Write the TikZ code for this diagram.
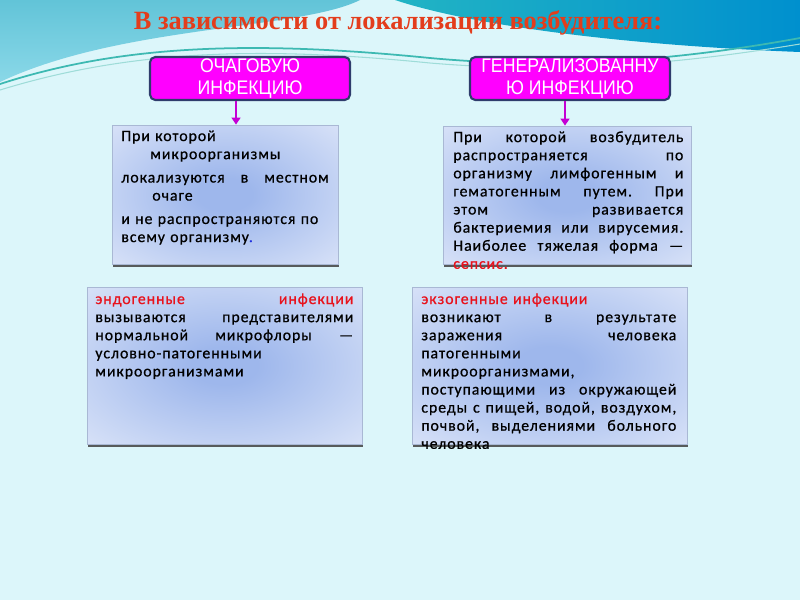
\documentclass[tikz,border=0pt]{standalone}
\usepackage{fontspec}
\newfontfamily\titlefont{Liberation Serif}
\newfontfamily\capsfont[FakeStretch=0.9]{Liberation Sans}
\newfontfamily\boxfont[LetterSpace=6,FakeBold=0.7]{Carlito}
\usetikzlibrary{arrows.meta,shadows}
\definecolor{bgcyan}{HTML}{DCF6FA}
\definecolor{topteal}{HTML}{62C4D8}
\definecolor{topteallight}{HTML}{8AD8E8}
\definecolor{deepteal}{HTML}{22B4C4}
\definecolor{deepblue}{HTML}{0090CE}
\definecolor{waveline}{HTML}{3DB9B2}
\definecolor{titlered}{HTML}{E33D1C}
\definecolor{pinkfill}{HTML}{FF00FF}
\definecolor{pinkedge}{HTML}{2F3C6C}
\definecolor{arrowpink}{HTML}{C400D4}
\definecolor{boxcore}{HTML}{9EB7EC}
\definecolor{boxrim}{HTML}{F3F6FD}
\definecolor{boxedge}{HTML}{A9B8D4}
\definecolor{alertred}{HTML}{E8121C}
\definecolor{dotblue}{HTML}{2030E0}
\pgfdeclareradialshading{boxglow}{\pgfpoint{0bp}{0bp}}{color(0bp)=(boxcore); color(6bp)=(boxcore); color(50bp)=(boxrim); color(60bp)=(boxrim)}
\begin{document}
\begin{tikzpicture}[x=0.02cm,y=-0.02cm,
  pinkbox/.style={draw=pinkedge,line width=1.2pt,fill=pinkfill,rounded corners=3pt,
    minimum width=4cm,minimum height=0.86cm,align=center,text=white,inner sep=1pt,
    font=\capsfont\fontsize{11.2}{12.3}\selectfont},
  infobox/.style={draw=boxedge,line width=0.4pt,shading=boxglow,
    drop shadow={shadow xshift=0.6pt,shadow yshift=-1.6pt,fill=black!75,opacity=0.85}},
  infotext/.style={anchor=north west,inner sep=0pt,align=left,
    font=\boxfont\fontsize{9}{10.3}\selectfont},
  link/.style={draw=arrowpink,line width=1.4pt,-{Triangle[length=4pt,width=5pt]}}]
  \useasboundingbox (0,0) rectangle (800,600);
  % background
  \fill[bgcyan] (0,0) rectangle (800,600);
  \shade[top color=topteal,bottom color=topteallight]
    (0,0) -- (360,0) .. controls (300,30) and (120,25) .. (0,82) -- cycle;
  \shade[left color=deepteal,right color=deepblue]
    (395,0) .. controls (470,25) and (620,45) .. (800,52) -- (800,0) -- cycle;
  \draw[waveline,line width=1pt] (0,84) .. controls (120,45) and (250,40) .. (430,58)
    .. controls (560,70) and (680,60) .. (800,38);
  \draw[waveline!50,line width=0.6pt] (0,90) .. controls (130,50) and (260,46) .. (430,63)
    .. controls (560,74) and (680,64) .. (800,44);
  % title and headers
  \node[font=\titlefont\bfseries\fontsize{15}{18}\selectfont,text=titlered] (title) at (398,23)
    {В зависимости от локализации возбудителя:};
  \node[pinkbox] (focal) at (250,78.5) {ОЧАГОВУЮ\\ИНФЕКЦИЮ};
  \node[pinkbox] (general) at (570,78.5) {ГЕНЕРАЛИЗОВАННУ\\Ю ИНФЕКЦИЮ};
  % boxes
  \node[infobox,minimum width=4.52cm,minimum height=2.78cm] (local) at (225,194.5) {};
  \node[infobox,minimum width=4.96cm,minimum height=2.76cm] (spread) at (567,195) {};
  \node[infobox,minimum width=5.5cm,minimum height=3.14cm] (endo) at (224.5,365.5) {};
  \node[infobox,minimum width=5.5cm,minimum height=3.14cm] (exo) at (549.5,365.5) {};
  \draw[link] ([xshift=-0.28cm]focal.south) -- ([xshift=-0.28cm]focal.south |- local.north);
  \draw[link] ([xshift=-0.1cm]general.south) -- ([xshift=-0.1cm]general.south |- spread.north);
  % texts
  \node[infotext,text width=4.15cm] (localtext) at (121,130) {%
    При которой\\
    \hspace*{0.58cm}микроорганизмы\\[3pt]
    локализуются\hfill в\hfill местном\\
    \hspace*{0.62cm}очаге\\[3pt]
    и не распространяются по\\
    всему организму{\color{dotblue}.}};
  \node[infotext,text width=4.6cm] (spreadtext) at (453,131) {%
    При\hfill которой\hfill возбудитель\\
    распространяется\hfill по\\
    организму\hfill лимфогенным\hfill и\\
    гематогенным\hfill путем.\hfill При\\
    этом\hfill развивается\\
    бактериемия\hfill или\hfill вирусемия.\\
    Наиболее\hfill тяжелая\hfill форма\hfill —\\
    {\color{alertred}сепсис.}};
  \node[infotext,text width=5.16cm] (endotext) at (95,293) {%
    {\color{alertred}эндогенные\hfill инфекции}\\
    вызываются\hfill представителями\\
    нормальной\hfill микрофлоры\hfill —\\
    условно-патогенными\\
    микроорганизмами};
  \node[infotext,text width=5.1cm] (exotext) at (421,293) {%
    {\color{alertred}экзогенные инфекции}\\
    возникают\hfill в\hfill результате\\
    заражения\hfill человека\\
    патогенными\\
    микроорганизмами,\\
    поступающими\hfill из\hfill окружающей\\
    среды\hfill с\hfill пищей,\hfill водой,\hfill воздухом,\\
    почвой,\hfill выделениями\hfill больного\\
    человека};
\end{tikzpicture}
\end{document}
